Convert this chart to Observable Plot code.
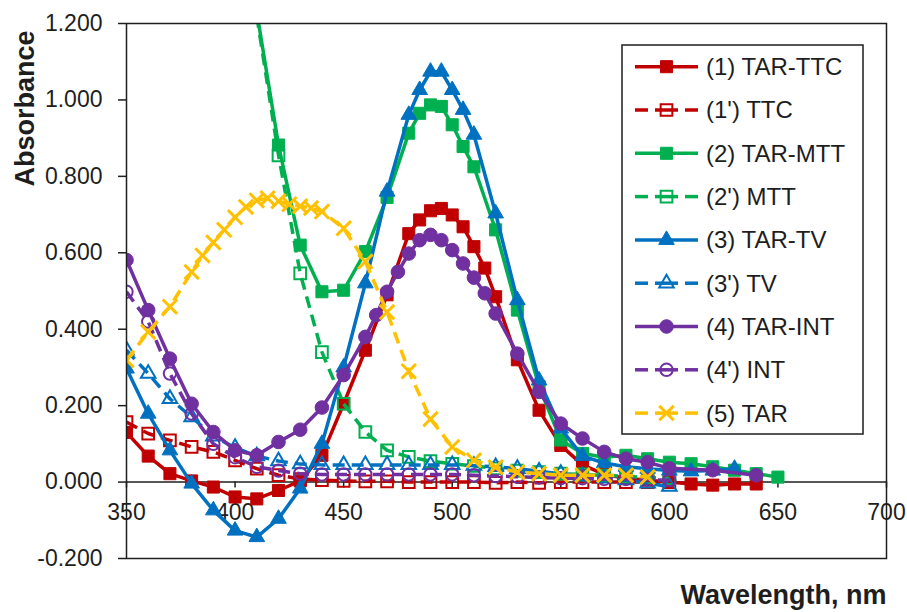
<!DOCTYPE html>
<html><head><meta charset="utf-8">
<script src="https://cdn.jsdelivr.net/npm/d3@7"></script>
<script src="https://cdn.jsdelivr.net/npm/@observablehq/plot@0.6"></script>
<style>
html,body{margin:0;padding:0;background:#fff;}
#chart{width:907px;height:612px;overflow:hidden;}
</style></head><body><div id="chart"></div>
<script>
// ---- axis ticks ----
const xTicks = [350, 400, 450, 500, 550, 600, 650, 700];
const yTicks = [-0.2, 0, 0.2, 0.4, 0.6, 0.8, 1.0, 1.2];
const xLabel = "Wavelength, nm";
const yLabel = "Absorbance";

// ---- series names ----
const seriesNames = ["(1) TAR-TTC", "(1') TTC", "(2) TAR-MTT", "(2') MTT", "(3) TAR-TV", "(3') TV", "(4) TAR-INT", "(4') INT", "(5) TAR"];

// (1) TAR-TTC
const tarTtcX = [350,360,370,380,390,400,410,420,430,440,450,460,470,480,485,490,495,500,505,510,515,520,530,540,550,560,570,580,590,600,610,620,630,640];
const tarTtcY = [0.130,0.068,0.022,0.003,-0.013,-0.039,-0.044,-0.022,0.003,0.070,0.205,0.345,0.490,0.650,0.686,0.710,0.716,0.699,0.668,0.616,0.560,0.485,0.320,0.188,0.096,0.045,0.020,0.010,0.005,0.000,-0.005,-0.008,-0.005,-0.005];
// (1') TTC
const ttcX = [350,360,370,380,390,400,410,420,430,440,450,460,470,480,490,500,510,520,530,540,550,560,570,580,590,600];
const ttcY = [0.157,0.127,0.109,0.092,0.079,0.057,0.035,0.018,0.008,0.005,0.003,0.002,0.002,0.000,0.000,0.000,0.000,-0.002,0.000,-0.002,0.000,0.000,0.000,0.000,0.000,0.000];
// (2) TAR-MTT
const tarMttX = [410,420,430,440,450,460,470,480,485,490,495,500,505,510,520,530,540,550,560,570,580,590,600,610,620,630,640,650];
const tarMttY = [1.230,0.882,0.620,0.498,0.502,0.603,0.745,0.913,0.965,0.987,0.983,0.935,0.878,0.825,0.660,0.450,0.250,0.110,0.075,0.065,0.070,0.061,0.052,0.048,0.040,0.031,0.022,0.013];
// (2') MTT
const mttX = [410,420,430,440,450,460,470,480,490,500,510,520,530,540,550,560,570,580,590,600];
const mttY = [1.220,0.855,0.546,0.340,0.205,0.131,0.083,0.066,0.055,0.048,0.042,0.036,0.030,0.026,0.022,0.020,0.017,0.015,0.012,0.010];
// (3) TAR-TV
const tarTvX = [350,360,370,380,390,400,410,420,430,440,450,460,470,480,485,490,495,500,505,510,520,530,540,550,560,570,580,590,600,610,620,630];
const tarTvY = [0.297,0.179,0.083,-0.004,-0.074,-0.127,-0.144,-0.096,-0.017,0.100,0.300,0.520,0.760,0.961,1.026,1.074,1.074,1.026,0.974,0.909,0.703,0.476,0.266,0.140,0.068,0.050,0.040,0.035,0.030,0.028,0.030,0.035];
// (3') TV
const tvX = [350,360,370,380,390,400,410,420,430,440,450,460,470,480,490,500,510,520,530,540,550,560,570,580,590,600];
const tvY = [0.345,0.284,0.218,0.170,0.120,0.090,0.068,0.055,0.047,0.045,0.045,0.045,0.045,0.045,0.045,0.045,0.043,0.040,0.035,0.028,0.022,0.015,0.010,0.005,-0.003,-0.012];
// (4) TAR-INT
const tarIntX = [350,360,370,380,390,400,410,420,430,440,450,460,465,470,475,480,485,490,495,500,505,510,515,520,530,540,550,560,570,580,590,600,620,640];
const tarIntY = [0.581,0.450,0.323,0.205,0.131,0.083,0.070,0.105,0.137,0.195,0.280,0.380,0.437,0.498,0.550,0.598,0.633,0.647,0.633,0.607,0.572,0.535,0.494,0.441,0.336,0.236,0.153,0.114,0.079,0.061,0.052,0.036,0.031,0.018];
// (4') INT
const intX = [350,360,370,380,390,400,410,420,430,440,450,460,470,480,490,500,510,520,530,540,550,560,570,580,590,600];
const intY = [0.498,0.420,0.284,0.179,0.100,0.065,0.040,0.030,0.022,0.020,0.020,0.020,0.020,0.020,0.020,0.020,0.018,0.016,0.014,0.012,0.010,0.010,0.008,0.008,0.006,0.005];
// (5) TAR
const tarX = [350,360,370,380,385,390,395,400,405,410,415,420,425,430,435,440,450,460,470,480,490,500,510,520,530,540,550,560,570,580,590];
const tarY = [0.319,0.393,0.459,0.550,0.593,0.627,0.660,0.693,0.720,0.737,0.743,0.735,0.727,0.722,0.717,0.708,0.664,0.577,0.445,0.290,0.165,0.092,0.057,0.039,0.026,0.022,0.018,0.018,0.018,0.018,0.013];

const seriesX = [tarTtcX, ttcX, tarMttX, mttX, tarTvX, tvX, tarIntX, intX, tarX];
const seriesY = [tarTtcY, ttcY, tarMttY, mttY, tarTvY, tvY, tarIntY, intY, tarY];

// ---- styles ----
const RED = "#C00000", GREEN = "#00B050", BLUE = "#0070C0", PURPLE = "#7030A0", GOLD = "#FFC000";
const styles = [
  {color: RED,    dashed: false, symbol: "square",   filled: true,  r: 6.8},
  {color: RED,    dashed: true,  symbol: "square",   filled: false, r: 6.6},
  {color: GREEN,  dashed: false, symbol: "square",   filled: true,  r: 6.8},
  {color: GREEN,  dashed: true,  symbol: "square",   filled: false, r: 6.6},
  {color: BLUE,   dashed: false, symbol: "triangle", filled: true,  r: 5.8},
  {color: BLUE,   dashed: true,  symbol: "triangle", filled: false, r: 5.4},
  {color: PURPLE, dashed: false, symbol: "circle",   filled: true,  r: 6.8},
  {color: PURPLE, dashed: true,  symbol: "circle",   filled: false, r: 6.2},
  {color: GOLD,   dashed: true,  symbol: "times",    filled: false, r: 6.6}
];
const DASH = "12,7";
const LW = 3.5;
const TEXT = "#1e1e1e";
const FONT = "'Liberation Sans', Arial, sans-serif";

const seriesMarks = [];
seriesNames.forEach((name, k) => {
  const rows = seriesX[k].map((x, i) => ({wl: x, abs: seriesY[k][i], name}));
  const s = styles[k];
  seriesMarks.push(Plot.line(rows, {
    x: "wl", y: "abs", stroke: s.color, strokeWidth: LW,
    strokeDasharray: s.dashed ? DASH : null,
    strokeLinecap: s.dashed ? "butt" : "round",
    clip: true
  }));
  seriesMarks.push(Plot.dot(rows, {
    x: "wl", y: "abs", symbol: s.symbol, r: s.r,
    fill: s.filled ? s.color : "none",
    stroke: s.color,
    strokeWidth: s.filled ? 1 : (s.symbol === "times" ? 3 : 2),
    clip: true
  }));
});

const chart = Plot.plot({
  width: 907,
  height: 612,
  marginLeft: 126,
  marginRight: 21,
  marginTop: 23,
  marginBottom: 54,
  style: {fontFamily: FONT, color: TEXT, background: "#fff", overflow: "visible"},
  x: {domain: [350, 700], axis: null},
  y: {domain: [-0.2, 1.2], axis: null},
  marks: [
    Plot.ruleY([0], {stroke: TEXT, strokeWidth: 1.5}),
    Plot.ruleX(xTicks, {x: d => d, y1: () => 0, y2: () => 0, insetBottom: -6, stroke: TEXT, strokeWidth: 1.5}),
    Plot.text(xTicks, {x: d => d, y: () => 0, dy: 31, text: d => String(d), fontSize: 23, lineAnchor: "middle", fill: TEXT}),
    Plot.axisY({ticks: yTicks, tickFormat: d => d.toFixed(3), tickSize: 8, tickPadding: 16, fontSize: 23, label: null, stroke: TEXT, strokeWidth: 1.5, fill: TEXT}),
    ...seriesMarks,
    Plot.frame({stroke: TEXT, strokeWidth: 1.5}),
    Plot.text([yLabel], {text: d => d, frameAnchor: "top-left", dx: -101, dy: 85, rotate: -90, fontSize: 27, fontWeight: "bold", textAnchor: "middle", lineAnchor: "middle", fill: TEXT}),
    Plot.text([xLabel], {text: d => d, frameAnchor: "bottom-right", dx: 0, dy: 37, fontSize: 27, fontWeight: "bold", textAnchor: "end", lineAnchor: "middle", fill: TEXT})
  ]
});

document.getElementById("chart").appendChild(chart);

// ---- legend ----
const svg = d3.select(chart);
const lg = svg.append("g").attr("class", "legend").attr("text-anchor", "start");
const boxX = 622, boxY = 45, boxW = 241, boxH = 389;
lg.append("rect").attr("x", boxX).attr("y", boxY).attr("width", boxW).attr("height", boxH)
  .attr("fill", "#fff").attr("stroke", TEXT).attr("stroke-width", 1.5);
const symMap = {square: d3.symbolSquare, triangle: d3.symbolTriangle, circle: d3.symbolCircle, times: d3.symbolTimes};
seriesNames.forEach((name, k) => {
  const s = styles[k];
  const cy = 66.7 + k * 43.3;
  const g = lg.append("g");
  if (s.dashed) {
    [[635, 648], [655, 678], [685, 698]].forEach(([a, b]) => {
      g.append("line").attr("x1", a).attr("x2", b).attr("y1", cy).attr("y2", cy)
        .attr("stroke", s.color).attr("stroke-width", LW);
    });
  } else {
    g.append("line").attr("x1", 635).attr("x2", 698).attr("y1", cy).attr("y2", cy)
      .attr("stroke", s.color).attr("stroke-width", LW);
  }
  g.append("path")
    .attr("d", d3.symbol(symMap[s.symbol], Math.PI * s.r * s.r)())
    .attr("transform", `translate(666.5,${cy})`)
    .attr("fill", s.filled ? s.color : "none")
    .attr("stroke", s.color)
    .attr("stroke-width", s.filled ? 1 : (s.symbol === "times" ? 3 : 2));
  g.append("text").attr("x", 706).attr("y", cy).attr("dy", "0.35em")
    .attr("text-anchor", "start")
    .attr("font-size", 24).attr("fill", TEXT).attr("font-family", FONT)
    .text(name);
});
</script>
</body></html>
